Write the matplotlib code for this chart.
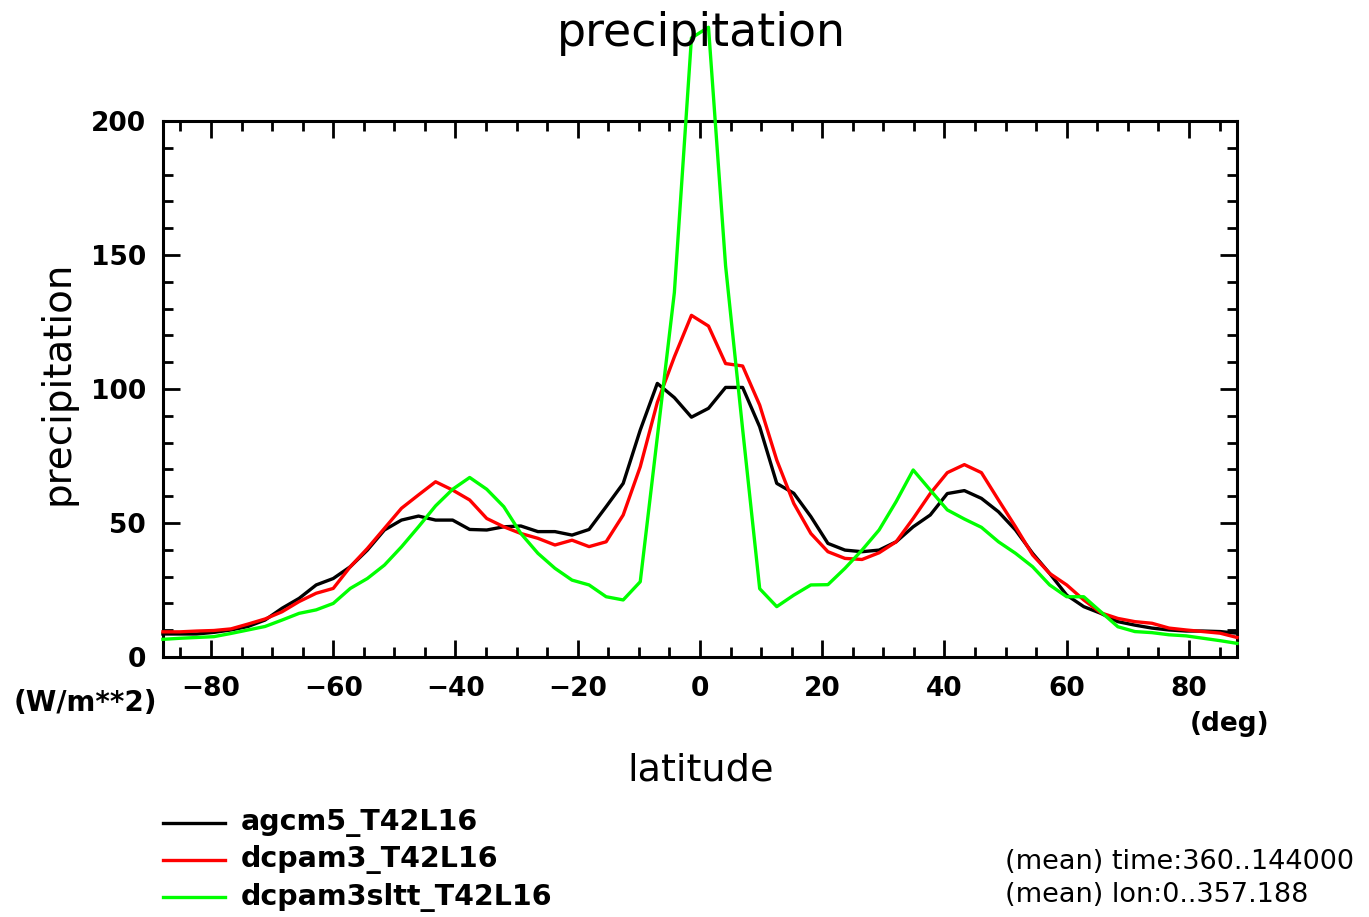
import matplotlib
matplotlib.use("Agg")
import matplotlib.pyplot as plt
from matplotlib.ticker import MultipleLocator

# T42 Gaussian latitudes (south to north)
lat_n = [1.3953, 4.1896, 6.9800, 9.7704, 12.5608, 15.3511, 18.1415, 20.9319,
         23.7223, 26.5127, 29.3031, 32.0935, 34.8839, 37.6743, 40.4646, 43.2550,
         46.0454, 48.8357, 51.6261, 54.4164, 57.2067, 59.9970, 62.7874, 65.5776,
         68.3678, 71.1578, 73.9475, 76.7369, 79.5256, 82.3129, 85.0965, 87.8638]
lat = [-v for v in lat_n[::-1]] + lat_n

# agcm5_T42L16 (black)
agcm5 = [8.6, 8.6, 8.6, 9.2, 10.1, 11.4, 13.8, 18.2, 21.9, 26.9, 29.3, 33.7,
         39.9, 47.4, 51.1, 52.6, 51.1, 51.1, 47.6, 47.4, 48.6, 48.9, 46.8, 46.8,
         45.5, 47.6, 56.1, 64.8, 84.7, 102.1, 96.8, 89.5,
         92.8, 100.6, 100.6, 85.9, 64.8, 61.1, 52.4, 42.4, 39.9, 39.3, 39.9, 43.0,
         48.6, 53.0, 61.0, 62.1, 59.2, 54.2, 47.4, 38.7, 31.2, 23.1, 18.8, 16.3,
         13.2, 11.9, 10.8, 10.1, 9.7, 9.7, 9.5, 8.9]

# dcpam3_T42L16 (red)
dcpam3 = [9.4, 9.4, 9.7, 9.9, 10.5, 12.3, 14.2, 16.9, 20.7, 23.8, 25.6, 33.7,
          40.5, 48.0, 55.5, 60.5, 65.4, 62.3, 58.6, 51.7, 48.6, 46.1, 44.3, 41.8,
          43.6, 41.2, 43.0, 53.0, 71.0, 95.0, 112.0, 127.5,
          123.5, 109.5, 108.6, 94.0, 73.5, 57.3, 46.1, 39.3, 36.8, 36.4, 38.9, 43.0,
          51.7, 61.0, 68.8, 71.8, 68.8, 58.6, 48.6, 38.1, 31.2, 26.9, 21.3, 16.5,
          14.4, 13.2, 12.6, 10.8, 10.1, 9.5, 8.9, 7.3]

# dcpam3sltt_T42L16 (green)
dcpam3sltt = [6.6, 7.0, 7.3, 7.6, 8.8, 10.1, 11.4, 13.8, 16.3, 17.6, 20.0, 25.6,
              29.3, 34.3, 41.1, 48.6, 56.4, 62.6, 67.0, 62.6, 56.1, 46.1, 38.7, 33.1,
              28.7, 26.9, 22.5, 21.3, 28.1, 82.0, 136.0, 231.0,
              235.0, 146.0, 85.0, 25.5, 18.8, 23.1, 26.9, 27.0, 33.1, 39.9, 47.4, 58.0,
              69.8, 62.3, 54.9, 51.5, 48.4, 43.0, 38.7, 33.7, 26.9, 22.5, 22.5, 16.9,
              11.3, 9.5, 9.1, 8.3, 7.9, 7.0, 6.1, 5.1]

series = [("agcm5_T42L16", agcm5, "#000000"),
          ("dcpam3_T42L16", dcpam3, "#ff0000"),
          ("dcpam3sltt_T42L16", dcpam3sltt, "#00ff00")]

plt.rcParams['font.family'] = ['DejaVu Sans']

fig = plt.figure(figsize=(13.69, 9.17), dpi=100)
ax = fig.add_axes([0.119, 0.2835, 0.7846, 0.5845])

for name, vals, col in series:
    ax.plot(lat, vals, color=col, lw=2.4, clip_on=False, zorder=3)

ax.set_xlim(-87.8638, 87.8638)
ax.set_ylim(0, 200)
ax.xaxis.set_major_locator(MultipleLocator(20))
ax.xaxis.set_minor_locator(MultipleLocator(5))
ax.yaxis.set_major_locator(MultipleLocator(50))
ax.yaxis.set_minor_locator(MultipleLocator(10))
ax.tick_params(which='both', direction='in', top=True, right=True, width=2, colors='black')
ax.tick_params(which='major', length=12)
ax.tick_params(which='minor', length=7)
ax.tick_params(axis='x', which='major', pad=14, labelsize=19)
ax.tick_params(axis='y', which='major', pad=12, labelsize=19)
for lab in ax.get_xticklabels() + ax.get_yticklabels():
    lab.set_fontweight('bold')
for sp in ax.spines.values():
    sp.set_linewidth(2.2)

ax.set_xticks([-80, -60, -40, -20, 0, 20, 40, 60, 80])
ax.set_xticklabels(['\u221280', '\u221260', '\u221240', '\u221220', '0', '20', '40', '60', '80'],
                   fontweight='bold')

fig.text(0.512, 0.963, "precipitation", ha='center', va='center', fontsize=33)
fig.text(0.042, 0.582, "precipitation", ha='center', va='center', fontsize=28, rotation=90)
fig.text(0.512, 0.16, "latitude", ha='center', va='center', fontsize=27.5)
fig.text(0.062, 0.233, "(W/m**2)", ha='center', va='center', fontsize=20, fontweight='bold')
fig.text(0.898, 0.211, "(deg)", ha='center', va='center', fontsize=19, fontweight='bold')

# legend
ly = [823, 860, 897]
for (name, vals, col), y in zip(series, ly):
    yf = 1 - y / 917
    fig.add_artist(plt.Line2D([163 / 1369, 225 / 1369], [yf, yf], color=col, lw=2.4))
    fig.text(241 / 1369, yf, name, ha='left', va='center', fontsize=20.5, fontweight='bold')

fig.text(1005 / 1369, 1 - 862 / 917, "(mean) time:360..144000", ha='left', va='center', fontsize=19.5)
fig.text(1005 / 1369, 1 - 895 / 917, "(mean) lon:0..357.188", ha='left', va='center', fontsize=19.5)

fig.savefig("out.png", dpi=100)
